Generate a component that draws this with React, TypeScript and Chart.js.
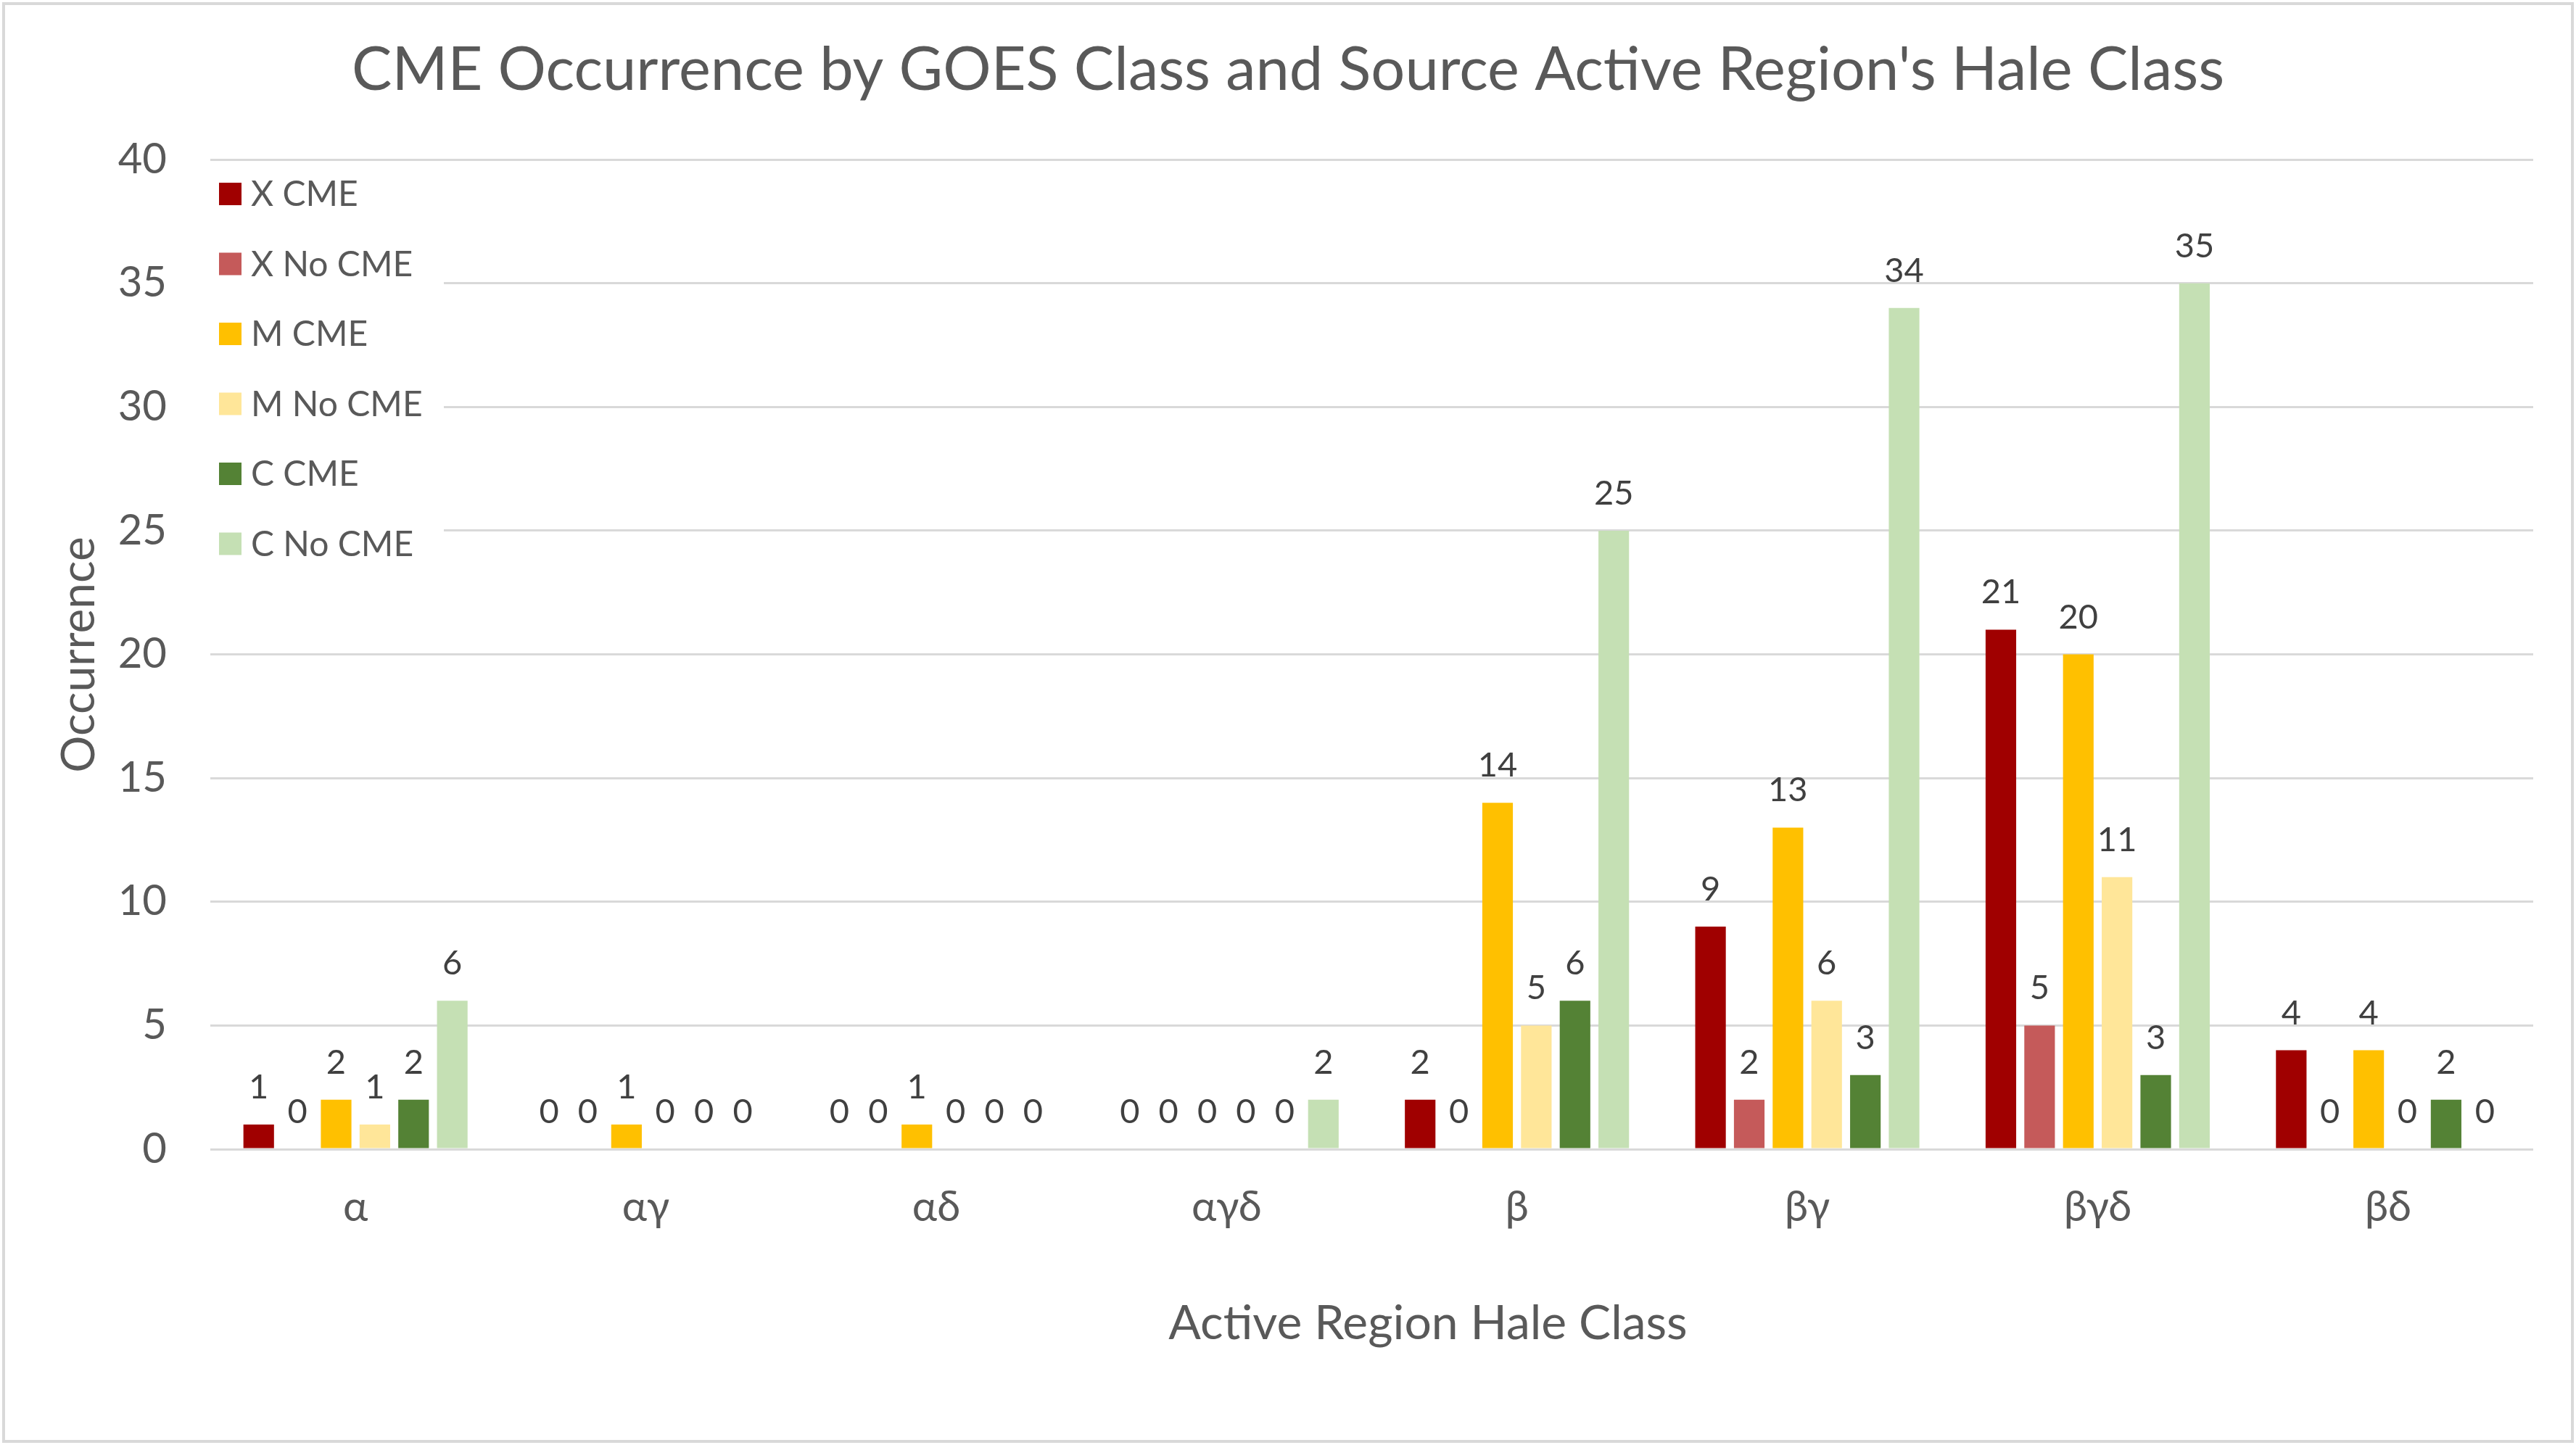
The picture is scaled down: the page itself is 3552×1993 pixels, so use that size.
import { useEffect, useRef } from "react"
import { Chart, registerables } from "chart.js"

Chart.register(...registerables)

// Hale classes on the x axis
const haleClasses = ["α", "αγ", "αδ", "αγδ", "β", "βγ", "βγδ", "βδ"]

// counts per GOES class, CME / no CME
const xCme = [1, 0, 0, 0, 2, 9, 21, 4]
const xNoCme = [0, 0, 0, 0, 0, 2, 5, 0]
const mCme = [2, 1, 1, 0, 14, 13, 20, 4]
const mNoCme = [1, 0, 0, 0, 5, 6, 11, 0]
const cCme = [2, 0, 0, 0, 6, 3, 3, 2]
const cNoCme = [6, 0, 0, 2, 25, 34, 35, 0]

const seriesNames = ["X CME", "X No CME", "M CME", "M No CME", "C CME", "C No CME"]
const seriesColors = ["#a00000", "#c55a5a", "#ffc000", "#ffe699", "#548235", "#c5e0b4"]

const FONT = "Lato, 'Noto Sans', 'Open Sans', sans-serif"
const W = 3552
const H = 1993

// titles, frame, legend box and value labels, drawn the way Excel lays them out
const decorPlugin = {
  id: "decor",
  beforeDatasetsDraw(chart: any) {
    const { ctx, chartArea } = chart
    ctx.save()
    // legend sits inside the plot, on a white box over the grid
    const lx = chartArea.left
    const ly = 232
    ctx.fillStyle = "#ffffff"
    ctx.fillRect(lx, ly, 322, 560)
    ctx.font = `48px ${FONT}`
    ctx.textBaseline = "middle"
    ctx.textAlign = "left"
    chart.data.datasets.forEach((ds: any, i: number) => {
      const cy = 267 + i * 96.5
      ctx.fillStyle = ds.backgroundColor
      ctx.fillRect(lx + 12, cy - 15, 31, 31)
      ctx.fillStyle = "#595959"
      ctx.fillText(ds.label, lx + 56, cy + 2)
    })
    ctx.restore()
  },
  afterDatasetsDraw(chart: any) {
    const { ctx } = chart
    ctx.save()
    ctx.font = `47px ${FONT}`
    ctx.fillStyle = "#404040"
    ctx.textAlign = "center"
    ctx.textBaseline = "alphabetic"
    chart.data.datasets.forEach((ds: any, i: number) => {
      const meta = chart.getDatasetMeta(i)
      meta.data.forEach((bar: any, j: number) => {
        ctx.fillText(String(ds.data[j]), bar.x, bar.y - 36)
      })
    })
    ctx.restore()
  },
  afterDraw(chart: any) {
    const { ctx } = chart
    ctx.save()
    ctx.strokeStyle = "#d9d9d9"
    ctx.lineWidth = 4
    ctx.strokeRect(5, 5, W - 10, H - 10)

    ctx.fillStyle = "#595959"
    ctx.textAlign = "center"
    ctx.textBaseline = "middle"
    ctx.font = `83px ${FONT}`
    ctx.fillText("CME Occurrence by GOES Class and Source Active Region's Hale Class", W / 2, 97)

    ctx.font = `66px ${FONT}`
    ctx.fillText("Active Region Hale Class", 1969, 1826)

    ctx.translate(109, 903)
    ctx.rotate(-Math.PI / 2)
    ctx.font = `64px ${FONT}`
    ctx.fillText("Occurrence", 0, 0)
    ctx.restore()
  },
}

export default function App() {
  const canvasRef = useRef<HTMLCanvasElement>(null)

  useEffect(() => {
    document.body.style.margin = "0"
    document.body.style.overflow = "hidden"
    if (!canvasRef.current) return
    const seriesData = [xCme, xNoCme, mCme, mNoCme, cCme, cNoCme]

    const chart = new Chart(canvasRef.current, {
      type: "bar",
      data: {
        labels: haleClasses,
        datasets: seriesData.map((d, i) => ({
          label: seriesNames[i],
          data: d,
          backgroundColor: seriesColors[i],
          borderWidth: 0,
          categoryPercentage: 0.8,
          barPercentage: 0.79,
        })),
      },
      options: {
        animation: false,
        responsive: true,
        maintainAspectRatio: false,
        devicePixelRatio: 1,
        layout: { padding: { left: 0, right: 59, top: 220, bottom: 0 } },
        plugins: {
          legend: { display: false },
          title: { display: false },
          tooltip: { enabled: false },
        },
        scales: {
          x: {
            grid: { display: false },
            border: { display: false },
            ticks: {
              color: "#595959",
              font: { family: FONT, size: 58 },
              padding: 37,
            },
            afterFit: (scale: any) => {
              scale.height = 408
            },
          },
          y: {
            min: 0,
            max: 40,
            grid: { color: "#d9d9d9", lineWidth: 3, drawTicks: false },
            border: { display: false },
            ticks: {
              stepSize: 5,
              color: "#595959",
              font: { family: FONT, size: 58 },
              padding: 60,
            },
            afterFit: (scale: any) => {
              scale.width = 290
            },
          },
        },
      },
      plugins: [decorPlugin],
    })

    return () => chart.destroy()
  }, [])

  return (
    <div style={{ width: W, height: H, background: "#fff" }}>
      <canvas ref={canvasRef} />
    </div>
  )
}
